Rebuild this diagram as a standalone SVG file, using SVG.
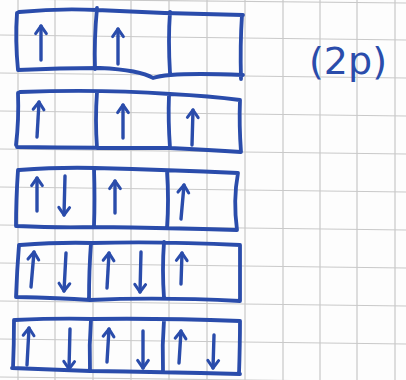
<svg xmlns="http://www.w3.org/2000/svg" width="406" height="380" viewBox="0 0 406 380">
<defs>
<style>
.grid{stroke:#c9c9c9;stroke-width:1.2;fill:none}
.box{stroke:#2a4cab;stroke-width:3.8;fill:none;stroke-linecap:round;stroke-linejoin:round}
.ar{stroke:#2a4cab;stroke-width:3.4;fill:none;stroke-linecap:round;marker-end:url(#head)}
.lbl{font-family:"DejaVu Sans",sans-serif;font-size:38px;fill:#2a4cab}
</style>
<marker id="head" viewBox="0 0 12 12" refX="10" refY="6" markerWidth="3.8" markerHeight="3.8" orient="auto" markerUnits="strokeWidth" overflow="visible">
<path d="M3,1 L10,6 L3,11" fill="none" stroke="#2a4cab" stroke-width="2.8" stroke-linecap="round" stroke-linejoin="round"/>
</marker>
</defs>
<rect width="406" height="380" fill="#fdfdfd"/>
<g id="grid" class="grid">
<path d="M18,0V380M55,0V380M93,0V380M131,0V380M169,0V380M207,0V380M245,0V380M283,0V380M320,0V380M357,0V380M395,0V380"/>
<path d="M0,-1L406,3M0,35L406,40M0,73L406,78M0,111L406,116M0,149L406,154M0,187L406,192M0,225L406,230M0,263L406,268M0,301L406,306M0,339L406,344M0,377L406,382"/>
</g>
<g id="row1">
<path class="box" d="M19,12 Q60,8 97,10 Q170,14 243,15 M17,13 Q15,40 18,70 M18,70 Q60,68 100,68 Q140,70 153,78 Q170,72 243,75 M97,8 Q94,40 95,69 M170,12 Q168,40 170,73 M242,15 Q240,45 241,79"/>
<path class="ar" d="M41,60 L41,26"/>
<path class="ar" d="M118,64 L118,29"/>
</g>
<g id="row2">
<path class="box" d="M20,92 Q100,89 170,94 Q210,96 240,100 M18,93 Q19,120 16,145 M17,147 Q100,148 170,148 Q210,150 241,152 M97,92 Q95,120 97,148 M169,95 Q168,120 170,148 M240,100 Q239,125 241,152"/>
<path class="ar" d="M37,137 L39,102"/>
<path class="ar" d="M123,138 L123,105"/>
<path class="ar" d="M192,145 L193,110"/>
</g>
<g id="row3">
<path class="box" d="M19,170 Q60,167 95,168 Q170,170 238,173 M18,170 Q16,200 16,226 M16,226 Q60,228 95,227 Q170,228 237,230 M94,168 Q95,200 94,226 M167,171 Q169,200 167,228 M238,173 Q233,200 237,230"/>
<path class="ar" d="M37,211 L37,178"/>
<path class="ar" d="M65,176 L64,215"/>
<path class="ar" d="M115,213 L115,181"/>
<path class="ar" d="M181,219 L184,185"/>
</g>
<g id="row4">
<path class="box" d="M20,245 Q60,242 92,243 Q160,241 240,245 M19,245 Q17,270 16,297 M16,297 Q60,298 90,300 Q160,297 240,301 M91,243 Q89,270 89,300 M164,242 Q162,270 164,298 M240,245 Q240,270 240,301"/>
<path class="ar" d="M31,287 L34,252"/>
<path class="ar" d="M66,253 L64,291"/>
<path class="ar" d="M107,288 L109,253"/>
<path class="ar" d="M141,252 L140,292"/>
<path class="ar" d="M181,284 L182,253"/>
</g>
<g id="row5">
<path class="box" d="M15,320 Q60,318 92,319 Q160,318 240,321 M14,320 Q14,345 13,368 M12,368 Q60,370 90,371 Q160,372 240,374 M91,319 Q89,345 90,371 M164,320 Q162,345 163,371 M240,321 Q240,345 239,374"/>
<path class="ar" d="M27,365 L29,328"/>
<path class="ar" d="M70,329 L69,369"/>
<path class="ar" d="M107,362 L109,329"/>
<path class="ar" d="M143,331 L143,368"/>
<path class="ar" d="M179,363 L181,331"/>
<path class="ar" d="M214,335 L213,368"/>
</g>
<g id="label">
<text class="lbl" x="348" y="74" text-anchor="middle">(2p)</text>
</g>
</svg>
